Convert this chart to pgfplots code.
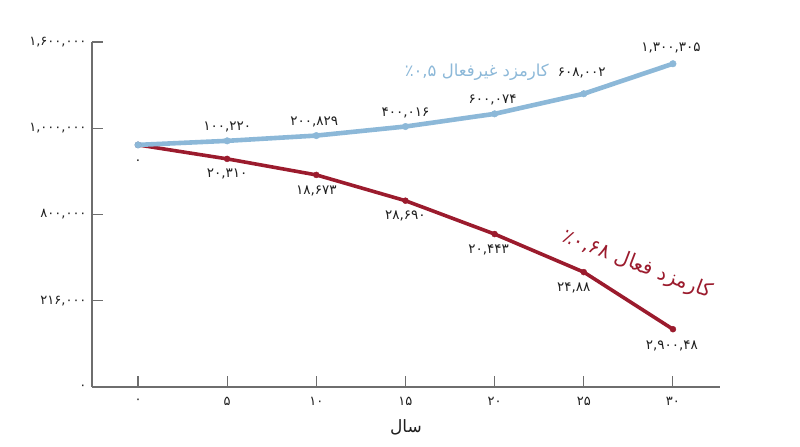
\documentclass[border=0pt]{standalone}
\usepackage{pgfplots}
\pgfplotsset{compat=1.18}
\usepackage{pgfplotstable}
\usepackage{fontspec}
\TeXXeTstate=1
\newfontfamily\pfont[Script=Arabic]{DejaVu Sans}
\newfontfamily\pdig{DejaVu Sans}
\definecolor{cblue}{RGB}{140,184,216}
\definecolor{cred}{RGB}{155,27,45}
\definecolor{caxis}{RGB}{110,110,110}
\definecolor{ctext}{RGB}{30,30,30}

\pgfplotstableread{
x y label dx dy
0 2.807 ۰ 0 -17
5 2.854 ۱۰۰,۲۲۰ 0 14
10 2.915 ۲۰۰,۸۲۹ -2 14
15 3.020 ۴۰۰,۰۱۶ 0 14
20 3.167 ۶۰۰,۰۷۴ -2 14
25 3.400 ۶۰۸,۰۰۲ -2 21
30 3.748 ۱,۳۰۰,۳۰۵ -2 16
}\bluedata

\pgfplotstableread{
x y label dx dy
0 2.807 {} 0 0
5 2.645 ۲۰,۳۱۰ 0 -15
10 2.459 ۱۸,۶۷۳ 0 -16
15 2.160 ۲۸,۶۹۰ 0 -15
20 1.773 ۲۰,۴۴۳ -6 -16
25 1.332 ۲۴,۸۸ -10 -16
30 0.670 ۲,۹۰۰,۴۸ -1 -17
}\reddata

\begin{document}
\begin{tikzpicture}
\path[use as bounding box] (-92bp,-60bp) rectangle (708bp,387bp);
\begin{axis}[
  at={(0,0)}, anchor=south west,
  scale only axis,
  width=628bp, height=345bp,
  xmin=-2.58, xmax=32.64,
  ymin=0, ymax=4,
  clip=false,
  axis x line*=bottom,
  axis y line*=left,
  axis line style={draw=caxis, line width=1.1pt},
  every tick/.style={draw=caxis, line width=1.1pt},
  major tick length=11bp,
  tick align=inside,
  xtick={0,5,10,15,20,25,30},
  xticklabels={{۰},{۵},{۱۰},{۱۵},{۲۰},{۲۵},{۳۰}},
  ytick={0,1,2,3,4},
  yticklabels={{۰},{۲۱۶,۰۰۰},{۸۰۰,۰۰۰},{۱,۰۰۰,۰۰۰},{۱,۶۰۰,۰۰۰}},
  xticklabel style={font=\fontsize{13bp}{15bp}\selectfont\pdig, text=ctext, anchor=center, yshift=-14bp},
  yticklabel style={font=\fontsize{13bp}{15bp}\selectfont\pdig, text=ctext, anchor=east, xshift=-2bp},
  xlabel={\pfont\beginR سال\endR},
  xlabel style={font=\fontsize{17bp}{19bp}\selectfont, text=ctext, at={(axis description cs:0.5,0)}, anchor=center, yshift=-40bp},
  nodes near coords={\pgfplotspointmeta},
  point meta=explicit symbolic,
  visualization depends on={\thisrow{dx}\as\dx},
  visualization depends on={\thisrow{dy}\as\dy},
  every node near coord/.append style={anchor=center, xshift=\dx bp, yshift=\dy bp, font=\fontsize{13.5bp}{15bp}\selectfont\pdig, text=ctext},
]
\addplot[color=cred, line width=3.6bp, mark=*, mark size=3bp, mark options={solid, fill=cred, draw=cred, line width=0.4pt}]
  table[x=x, y=y, meta=label] {\reddata};
\addplot[color=cblue, line width=4.6bp, mark=*, mark size=3.3bp, mark options={solid, fill=cblue, draw=cblue, line width=0.4pt}]
  table[x=x, y=y, meta=label] {\bluedata};
\node[text=cblue, font=\fontsize{16.5bp}{18bp}\selectfont\pfont, anchor=center] at (axis cs:19.0,3.655)
  {\beginR کارمزد غیرفعال \beginL۰,۵\endL٪\endR};
\node[text=cred, font=\fontsize{20bp}{22bp}\selectfont\pfont, anchor=center, rotate=-21] at (axis cs:28.0,1.413)
  {\beginR کارمزد فعال \beginL۰,۶۸\endL٪\endR};
\end{axis}
\end{tikzpicture}
\end{document}
